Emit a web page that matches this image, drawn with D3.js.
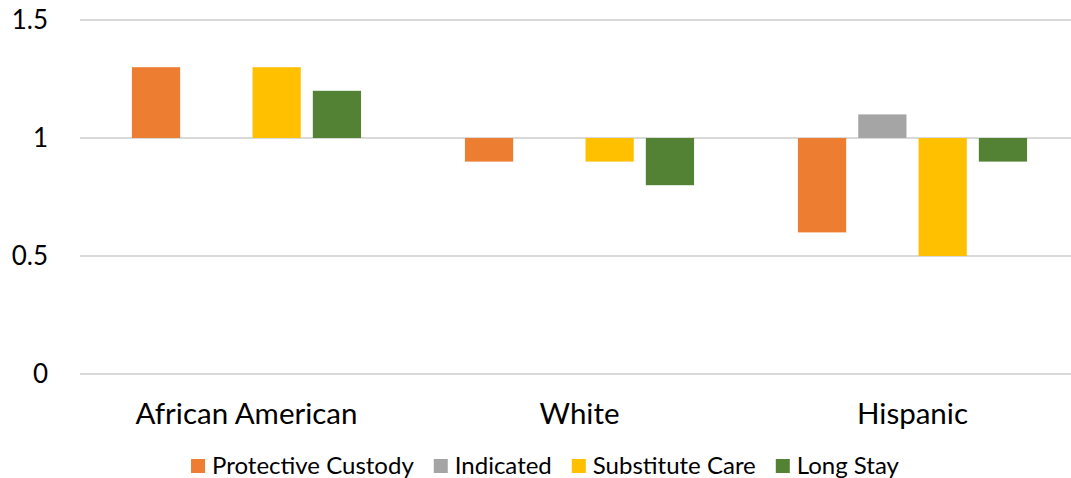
<!DOCTYPE html>
<html lang="en">
<head>
    <meta charset="UTF-8">
    <title>Ratios by race</title>
    <script src="https://d3js.org/d3.v7.min.js"></script>
    <style>
        body {
            margin: 0;
            background-color: #ffffff;
            font-family: Lato, 'Open Sans', sans-serif;
        }
        svg { display: block; }
    </style>
</head>
<body>
    <svg id="chart" width="1071" height="478"></svg>

    <script>
        const categories = ["African American", "White", "Hispanic"];
        const seriesNames = ["Protective Custody", "Indicated", "Substitute Care", "Long Stay"];
        const seriesColors = ["#ED7D31", "#A5A5A5", "#FFC000", "#548235"];
        const protectiveCustody = [1.3, 0.9, 0.6];
        const indicated = [1.0, 1.0, 1.1];
        const substituteCare = [1.3, 0.9, 0.5];
        const longStay = [1.2, 0.8, 0.9];
        const yTicks = [0, 0.5, 1, 1.5];
        const baseline = 1;

        const seriesValues = [protectiveCustody, indicated, substituteCare, longStay];

        const width = 1071, height = 478;
        const margin = { left: 80, right: -8, top: 20, bottom: 104 };
        const svg = d3.select("#chart");

        const x0 = d3.scaleBand()
            .domain(categories)
            .range([margin.left, width - margin.right])
            .paddingInner(0.2757)
            .paddingOuter(0.1378);

        const x1 = d3.scaleBand()
            .domain(seriesNames)
            .range([0, x0.bandwidth()])
            .paddingInner(0.2)
            .paddingOuter(0.1);

        const y = d3.scaleLinear()
            .domain([0, 1.5])
            .range([height - margin.bottom, margin.top]);

        // grid lines
        svg.append("g")
            .selectAll("line")
            .data(yTicks)
            .enter()
            .append("line")
            .attr("x1", margin.left)
            .attr("x2", width)
            .attr("y1", d => y(d))
            .attr("y2", d => y(d))
            .style("stroke", "#d9d9d9")
            .style("stroke-width", 2);

        // y axis labels
        const yAxis = d3.axisLeft(y).tickValues(yTicks).tickFormat(d3.format("")).tickSize(0).tickPadding(32);
        const yg = svg.append("g").attr("transform", `translate(${margin.left},0)`).call(yAxis);
        yg.select(".domain").remove();
        yg.selectAll("text")
            .style("font-family", "Lato, sans-serif")
            .style("font-size", "26px")
            .style("fill", "#000");

        // bars, drawn from the baseline of 1
        const rows = [];
        seriesNames.forEach((s, i) => {
            categories.forEach((c, j) => {
                rows.push({ series: s, cat: c, value: seriesValues[i][j], color: seriesColors[i] });
            });
        });

        svg.append("g")
            .selectAll("rect")
            .data(rows)
            .enter()
            .append("rect")
            .attr("x", d => x0(d.cat) + x1(d.series))
            .attr("width", x1.bandwidth())
            .attr("y", d => y(Math.max(d.value, baseline)))
            .attr("height", d => Math.abs(y(d.value) - y(baseline)))
            .style("fill", d => d.color);

        // category labels
        svg.append("g")
            .selectAll("text")
            .data(categories)
            .enter()
            .append("text")
            .attr("x", d => x0(d) + x0.bandwidth() / 2)
            .attr("y", 424)
            .attr("text-anchor", "middle")
            .style("font-size", "29.5px")
            .style("fill", "#000")
            .text(d => d);

        // legend
        const legend = svg.append("g");
        const items = legend.selectAll("g")
            .data(seriesNames)
            .enter()
            .append("g");

        items.append("rect")
            .attr("width", 14)
            .attr("height", 14)
            .attr("y", 459)
            .style("fill", (d, i) => seriesColors[i]);

        items.append("text")
            .attr("x", 21)
            .attr("y", 474)
            .style("font-size", "24px")
            .style("fill", "#000")
            .text(d => d);

        let pos = 0;
        items.each(function () {
            const w = d3.select(this).select("text").node().getComputedTextLength();
            d3.select(this).attr("transform", `translate(${pos},0)`);
            pos += 21 + w + 20;
        });
        const total = pos - 20;
        legend.attr("transform", `translate(${545 - total / 2},0)`);
    </script>
</body>
</html>
